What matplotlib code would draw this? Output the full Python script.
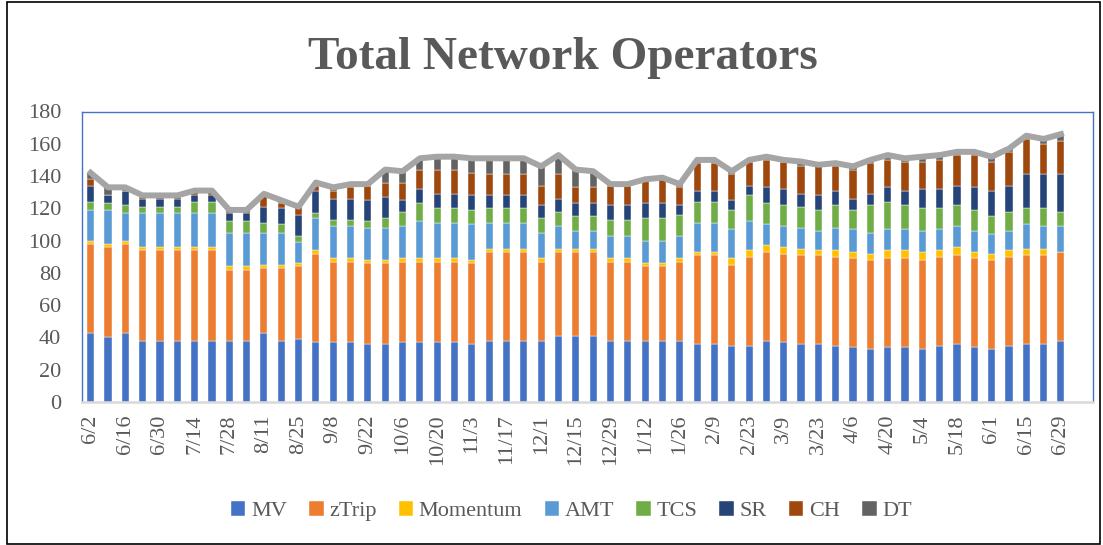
import matplotlib.pyplot as plt
from matplotlib.patches import Rectangle

# weekly operator counts, 6/2 .. 6/29 (57 weeks)
MV = [43, 40, 43, 38, 38, 38, 38, 38, 38, 38, 43, 38, 39, 37, 37, 37, 36, 36, 37, 37,
      37, 37, 36, 38, 38, 38, 38, 41, 41, 41, 38, 38, 38, 38, 38, 36, 36, 35, 35,
      38, 37, 36, 36, 35, 34, 33, 34, 34, 33, 35, 36, 34, 33, 35, 36, 36, 38]
zTrip = [55, 56, 55, 56, 56, 56, 56, 56, 44, 44, 40, 45, 45, 55, 50, 50, 50, 50, 50, 50,
         50, 50, 50, 55, 55, 55, 49, 52, 52, 52, 49, 49, 46, 46, 49, 55, 55, 50, 55,
         55, 55, 55, 55, 55, 55, 55, 55, 55, 55, 55, 55, 55, 55, 55, 55, 55, 55]
Momentum = [2, 2, 2, 2, 2, 2, 2, 2, 2, 2, 2, 2, 2, 2, 2, 2, 2, 2, 2, 2,
            2, 2, 2, 2, 2, 2, 2, 2, 2, 2, 2, 2, 2, 2, 2, 2, 2, 4, 4,
            4, 4, 4, 3, 4, 4, 4, 5, 5, 5, 4, 5, 4, 4, 4, 4, 4, 0]
AMT = [19, 21, 17, 21, 21, 21, 21, 21, 21, 21, 20, 20, 13, 20, 20, 20, 20, 20, 20, 23,
       22, 22, 22, 16, 16, 16, 16, 14, 11, 11, 14, 14, 14, 14, 14, 18, 18, 18, 18,
       13, 13, 13, 12, 14, 14, 13, 13, 13, 13, 13, 13, 13, 12, 12, 15, 14, 16]
TCS = [5, 4, 5, 4, 4, 4, 7, 7, 7, 7, 6, 5, 4, 3, 4, 4, 4, 6, 9, 11,
       9, 9, 9, 9, 9, 9, 9, 9, 9, 9, 10, 10, 14, 14, 13, 13, 13, 12, 16,
       13, 13, 13, 13, 14, 12, 17, 17, 15, 14, 13, 13, 13, 11, 12, 10, 11, 9]
SR = [10, 5, 9, 5, 5, 5, 4, 4, 5, 5, 10, 10, 13, 14, 13, 13, 13, 13, 7, 9,
      9, 9, 9, 8, 8, 8, 8, 8, 8, 8, 9, 9, 9, 9, 6, 7, 7, 6, 6,
      10, 10, 8, 9, 9, 7, 7, 9, 9, 12, 12, 12, 14, 16, 16, 21, 21, 23]
CH = [4, 0, 0, 1, 1, 1, 2, 2, 2, 2, 7, 3, 5, 3, 5, 7, 9, 9, 11, 12,
      15, 15, 14, 13, 13, 13, 12, 15, 10, 10, 12, 12, 14, 15, 11, 17, 17, 16, 15,
      17, 17, 17, 18, 15, 18, 19, 17, 18, 17, 18, 19, 20, 18, 21, 22, 19, 21]
DT = [4, 5, 2, 1, 1, 1, 1, 1, 0, 0, 1, 2, 0, 2, 2, 2, 1, 8, 7, 7,
      8, 8, 9, 10, 10, 10, 12, 12, 11, 10, 1, 1, 1, 1, 2, 2, 2, 2, 1,
      2, 1, 3, 1, 2, 2, 2, 3, 2, 3, 3, 2, 2, 3, 2, 2, 3, 4]

tick_labels = ['6/2', '6/16', '6/30', '7/14', '7/28', '8/11', '8/25', '9/8', '9/22',
               '10/6', '10/20', '11/3', '11/17', '12/1', '12/15', '12/29', '1/12',
               '1/26', '2/9', '2/23', '3/9', '3/23', '4/6', '4/20', '5/4', '5/18',
               '6/1', '6/15', '6/29']

series = [('MV', MV, '#4472C4'), ('zTrip', zTrip, '#ED7D31'),
          ('Momentum', Momentum, '#FFC000'), ('AMT', AMT, '#5B9BD5'),
          ('TCS', TCS, '#70AD47'), ('SR', SR, '#264478'),
          ('CH', CH, '#9E480E'), ('DT', DT, '#636363')]

plt.rcParams['font.family'] = ['Liberation Serif', 'DejaVu Serif']
text_col = '#595959'

fig = plt.figure(figsize=(11.03, 5.45), dpi=100)
ax = fig.add_axes([82 / 1103, 1 - 402 / 545, (1093 - 82) / 1103, (402 - 111.5) / 545])

x = list(range(len(MV)))
bottom = [0] * len(MV)
handles = []
for name, vals, col in series:
    b = ax.bar(x, vals, 0.41, bottom=bottom, color=col, label=name,
               edgecolor='white', linewidth=0.3, zorder=2)
    handles.append(b)
    bottom = [p + v for p, v in zip(bottom, vals)]

# total line
ax.plot(x, bottom, color='#A5A5A5', lw=4.3, zorder=3, solid_joinstyle='round')

ax.set_xlim(-0.5, 57.85)
ax.set_ylim(0, 180)
ax.set_yticks(range(0, 181, 20))
ax.set_xticks(x[::2])
ax.set_xticklabels(tick_labels, rotation=90)
ax.tick_params(axis='both', length=0, labelsize=16, colors=text_col)
ax.tick_params(axis='y', pad=15)
ax.tick_params(axis='x', pad=9)

for s in ['left', 'top', 'right']:
    ax.spines[s].set_color('#4472C4')
    ax.spines[s].set_linewidth(1)
ax.spines['bottom'].set_color('#D9D9D9')
ax.spines['bottom'].set_linewidth(1.8)

fig.text(0.51, 1 - 58 / 545, 'Total Network Operators', ha='center', va='center',
         fontsize=34, fontweight='bold', color=text_col)

fig.legend(handles, [s[0] for s in series], loc='center', bbox_to_anchor=(0.518, 1 - 511 / 545),
           ncol=8, frameon=False, fontsize=16, labelcolor=text_col,
           handlelength=0.65, handleheight=0.65, handletextpad=0.25, columnspacing=1.0)

fig.patches.append(Rectangle((7 / 1103, 1 / 545), 1093 / 1103, 542 / 545,
                             transform=fig.transFigure, fill=False,
                             edgecolor='black', lw=1.2))

fig.savefig('out.png', dpi=100)
